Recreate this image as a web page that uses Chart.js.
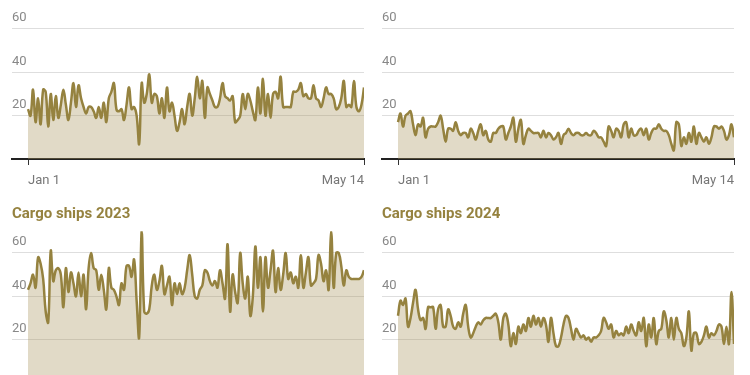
<!DOCTYPE html>
<html>
<head>
<meta charset="utf-8">
<script src="https://cdn.jsdelivr.net/npm/chart.js@4.4.1/dist/chart.umd.min.js"></script>
<style>
body { margin: 0; background: #fff; overflow: hidden; width: 750px; height: 375px; position: relative; }
canvas { position: absolute; }
</style>
</head>
<body>
<canvas id="c1" width="375" height="230" style="left:0;top:-34px"></canvas>
<canvas id="c2" width="375" height="230" style="left:370px;top:-34px"></canvas>
<canvas id="c3" width="375" height="230" style="left:0;top:190px"></canvas>
<canvas id="c4" width="375" height="230" style="left:370px;top:190px"></canvas>
<script>
// daily counts, Jan 1 .. May 14
let tankers2023 = [23,20,32,17,28,16,32,31,15,30,
  18,29,19,25,32,25,18,26,35,24,
  34,28,24,21,24,24,22,19,24,19,
  26,17,28,31,35,23,22,23,18,25,
  33,23,24,20,7,35,26,30,39,26,
  30,29,21,28,19,33,22,26,20,13,
  17,23,16,24,30,20,28,38,28,36,
  19,33,30,27,24,24,28,35,29,28,
  27,29,17,18,20,30,23,30,27,22,
  18,33,21,37,20,30,19,30,31,28,
  38,24,24,24,24,31,31,32,35,29,
  30,28,28,34,28,27,24,28,33,30,
  30,28,23,24,28,36,24,25,24,36,
  24,22,25,33];
let tankers2024 = [17,21,15,20,21,22,16,11,16,15,
  19,10,14,15,15,15,17,20,14,8,
  14,14,13,17,13,11,12,12,10,14,
  12,9,13,16,11,13,9,8,12,12,
  14,15,15,9,12,15,19,8,14,18,
  7,11,14,13,12,12,12,10,13,10,
  12,11,9,10,12,7,11,12,14,12,
  11,12,12,11,11,12,11,11,13,12,
  10,10,8,6,15,13,10,14,13,10,
  16,17,10,14,11,11,13,14,11,14,
  9,12,14,14,16,14,13,13,11,7,
  4,17,16,6,10,7,12,8,15,7,
  12,10,8,10,7,10,15,15,14,15,
  13,9,11,16,10];
let cargo2023 = [43,46,50,44,58,55,48,33,28,61,
  47,52,53,50,35,53,42,51,46,40,
  51,40,50,34,53,60,53,52,43,50,
  43,34,53,44,43,40,36,46,43,54,
  54,49,57,38,21,70,33,32,34,45,
  50,43,47,54,41,45,49,36,46,41,
  46,41,44,52,59,50,40,39,43,45,
  52,51,47,45,47,44,52,46,39,64,
  33,50,42,37,60,46,39,49,31,40,
  63,44,58,33,58,44,52,61,42,53,
  43,50,60,48,51,46,49,44,59,44,
  51,58,45,46,48,59,55,47,52,43,
  70,44,60,60,54,45,52,49,48,48,
  48,48,49,52];
let cargo2024 = [31,38,36,39,26,30,37,43,34,29,
  30,25,35,35,35,25,34,36,26,26,
  34,31,26,25,28,26,32,36,26,21,
  23,26,28,27,29,30,30,30,31,32,
  28,20,30,32,27,17,23,18,26,23,
  27,24,30,26,31,27,30,26,30,27,
  19,30,23,17,17,21,27,31,30,25,
  20,25,23,21,22,20,21,19,21,21,
  22,24,30,28,25,27,21,24,22,23,
  22,26,23,27,24,22,28,24,30,17,
  27,21,30,18,24,25,33,29,21,30,
  20,30,25,23,17,21,33,15,23,23,
  18,19,22,26,21,23,22,24,27,26,
  18,26,18,42,18];
let yTicks = [20, 40, 60];
let xTickLabels = ["Jan 1", "May 14"];

var lineColor = "#95823f";
var fillColor = "rgba(169,149,95,0.35)";
var fontFamily = "Roboto, 'Liberation Sans', sans-serif";

function makePanel(id, title, values) {
  var last = values.length - 1;
  var perDay = 336 / last;
  new Chart(document.getElementById(id), {
    type: "line",
    data: {
      datasets: [{
        data: values.map(function (v, i) { return { x: i, y: v }; }),
        borderColor: lineColor,
        borderWidth: 2.5,
        backgroundColor: fillColor,
        fill: "origin",
        pointRadius: 0,
        tension: 0.4,
      }],
    },
    options: {
      responsive: false,
      animation: false,
      layout: { padding: { left: 12, right: 11, top: 0, bottom: 0 } },
      plugins: {
        legend: { display: false },
        tooltip: { enabled: false },
        title: {
          display: true,
          text: title,
          align: "start",
          color: lineColor,
          font: { family: fontFamily, size: 15, weight: "bold" },
          padding: { top: 15.5, bottom: 7.8 },
        },
      },
      scales: {
        x: {
          type: "linear",
          min: -16 / perDay,
          max: last,
          afterBuildTicks: function (s) { s.ticks = [{ value: 0 }, { value: last }]; },
          afterFit: function (s) { s.height = 37; },
          ticks: {
            align: "inner",
            maxRotation: 0,
            autoSkip: false,
            padding: 8,
            color: "#777",
            font: { family: fontFamily, size: 13 },
            callback: function (v) { return v === 0 ? xTickLabels[0] : xTickLabels[1]; },
          },
          grid: { drawOnChartArea: false, drawTicks: true, tickLength: 6, color: "#333" },
          border: { display: true, color: "#222", width: 2 },
        },
        y: {
          min: 0,
          max: 70,
          afterBuildTicks: function (s) { s.ticks = yTicks.map(function (v) { return { value: v }; }); },
          ticks: {
            mirror: true,
            padding: 0,
            labelOffset: -11,
            color: "#888",
            font: { family: fontFamily, size: 13 },
          },
          grid: { color: "#dedede", drawTicks: false },
          border: { display: false },
        },
      },
    },
  });
}

makePanel("c1", "Tankers 2023", tankers2023);
makePanel("c2", "Tankers 2024", tankers2024);
makePanel("c3", "Cargo ships 2023", cargo2023);
makePanel("c4", "Cargo ships 2024", cargo2024);
</script>
</body>
</html>
